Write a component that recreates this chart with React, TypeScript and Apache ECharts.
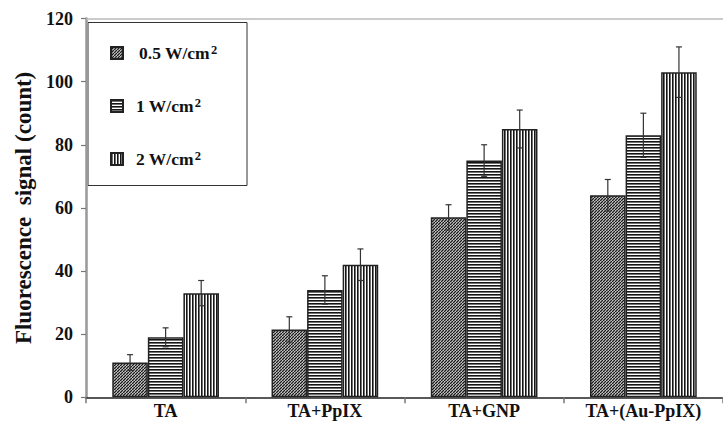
import React, { useEffect, useRef } from 'react';
import * as echarts from 'echarts';

const categories = ['TA', 'TA+PpIX', 'TA+GNP', 'TA+(Au-PpIX)'];
const seriesNames = ['0.5 W/cm²', '1 W/cm²', '2 W/cm²'];
const legendBase = ['0.5 W/cm', '1 W/cm', '2 W/cm'];
const values05 = [11, 21.5, 57, 64];
const values1 = [19, 34, 75, 83];
const values2 = [33, 42, 85, 103];
const errors05 = [2.5, 4, 4, 5];
const errors1 = [3, 4.5, 5, 7];
const errors2 = [4, 5, 6, 8];
const yMin = 0;
const yMax = 120;
const yStep = 20;

const FONT = '"Liberation Serif", "DejaVu Serif", serif';
const CAT_GAP = 0.33;

function makePattern(kind: 'diag' | 'horiz' | 'vert') {
  const c = document.createElement('canvas');
  c.width = kind === 'horiz' ? 6 : 3;
  c.height = kind === 'vert' ? 6 : 3;
  const ctx = c.getContext('2d')!;
  ctx.fillStyle = '#ffffff';
  ctx.fillRect(0, 0, c.width, c.height);
  ctx.fillStyle = '#151515';
  ctx.strokeStyle = '#1a1a1a';
  if (kind === 'horiz') {
    ctx.fillRect(0, 0, 6, 1.6);
  } else if (kind === 'vert') {
    ctx.fillRect(0, 0, 1.6, 6);
  } else {
    ctx.lineWidth = 1.5;
    ctx.beginPath();
    for (const o of [-3, 0, 3]) {
      ctx.moveTo(o, 3);
      ctx.lineTo(o + 3, 0);
    }
    ctx.stroke();
  }
  return { image: c, repeat: 'repeat' } as any;
}

function errorSeries(k: number, vals: number[], errs: number[]) {
  return {
    type: 'custom',
    name: 'err' + k,
    z: 5,
    silent: true,
    data: vals.map((v, i) => [i, v, errs[i]]),
    encode: { x: 0, y: 1 },
    renderItem: (params: any, api: any) => {
      const cat = api.value(0);
      const v = api.value(1);
      const e = api.value(2);
      const band = api.size([1, 0])[0];
      const bw = (band * (1 - CAT_GAP)) / 3;
      const cx = api.coord([cat, v])[0] - 1.5 * bw + bw * (k + 0.5);
      const yt = api.coord([cat, v + e])[1];
      const yb = api.coord([cat, v - e])[1];
      const st = { stroke: '#333', lineWidth: 1.2 };
      return {
        type: 'group',
        children: [
          { type: 'line', shape: { x1: cx, y1: yt, x2: cx, y2: yb }, style: st },
          { type: 'line', shape: { x1: cx - 3, y1: yt, x2: cx + 3, y2: yt }, style: st },
          { type: 'line', shape: { x1: cx - 3, y1: yb, x2: cx + 3, y2: yb }, style: st },
        ],
      };
    },
  };
}

export default function App() {
  const ref = useRef<HTMLDivElement>(null);
  useEffect(() => {
    if (!ref.current) return;
    const chart = echarts.init(ref.current, undefined, { renderer: 'svg' });
    const patterns = [makePattern('diag'), makePattern('horiz'), makePattern('vert')];
    const allVals = [values05, values1, values2];
    const allErrs = [errors05, errors1, errors2];
    const barSeries = seriesNames.map((name, k) => ({
      type: 'bar',
      name,
      data: allVals[k],
      barGap: '0%',
      barCategoryGap: CAT_GAP * 100 + '%',
      itemStyle: { color: patterns[k], borderColor: '#222', borderWidth: 1.5 },
    }));
    const option: any = {
      animation: false,
      grid: { left: 86, right: -8, top: 18.5, bottom: 36.7, containLabel: false },
      legend: {
        orient: 'vertical',
        left: 105,
        top: 38,
        padding: 5,
        itemWidth: 12,
        itemHeight: 12,
        itemGap: 34,
        data: seriesNames.map((n) => ({ name: n, icon: 'rect' })),
        formatter: (name: string) => {
          const k = seriesNames.indexOf(name);
          return (k === 0 ? '{b|' : '{a|') + legendBase[k] + '}{s|2}';
        },
        textStyle: {
          fontFamily: FONT,
          color: '#111',
          rich: {
            a: { fontFamily: FONT, fontWeight: 'bold', fontSize: 17.5, lineHeight: 20, color: '#111', padding: [0, 0, 0, 8] },
            b: { fontFamily: FONT, fontWeight: 'bold', fontSize: 17.5, lineHeight: 20, color: '#111', padding: [0, 0, 0, 11] },
            s: { fontFamily: FONT, fontWeight: 'bold', fontSize: 12.5, lineHeight: 20, color: '#111', verticalAlign: 'top', padding: [0, 0, 0, 1] },
          },
        },
      },
      graphic: [
        {
          type: 'rect',
          z: 0,
          shape: { x: 88, y: 22.5, width: 159, height: 163 },
          style: { fill: '#fff', stroke: '#333', lineWidth: 1 },
        },
      ],
      xAxis: [
        {
          type: 'category',
          data: categories,
          axisLine: { lineStyle: { color: '#222', width: 1.5 } },
          axisTick: { show: true, length: 6, lineStyle: { color: '#777', width: 1.5 } },
          axisLabel: { fontFamily: FONT, fontWeight: 'bold', fontSize: 18, color: '#111', margin: 5 },
        },
        {
          type: 'category',
          data: categories,
          position: 'top',
          axisLine: { lineStyle: { color: '#bbb', width: 1.5 } },
          axisTick: { show: false },
          axisLabel: { show: false },
        },
      ],
      yAxis: {
        type: 'value',
        min: yMin,
        max: yMax,
        interval: yStep,
        name: 'Fluorescence  signal (count)',
        nameLocation: 'middle',
        nameGap: 41,
        nameTextStyle: { fontFamily: FONT, fontWeight: 'bold', fontSize: 23, color: '#111' },
        axisLine: { show: true, lineStyle: { color: '#999', width: 2.5 } },
        axisTick: { show: true, length: 5, lineStyle: { color: '#777', width: 1.2 } },
        axisLabel: { fontFamily: FONT, fontWeight: 'bold', fontSize: 18, color: '#111', margin: 13 },
        splitLine: { show: false },
      },
      series: [
        ...barSeries,
        ...[0, 1, 2].map((k) => errorSeries(k, allVals[k], allErrs[k])),
      ],
    };
    chart.setOption(option);
    return () => chart.dispose();
  }, []);
  return (
    <div
      ref={ref}
      style={{ position: 'fixed', left: 0, top: 0, width: 723, height: 434, background: '#fff' }}
    />
  );
}
